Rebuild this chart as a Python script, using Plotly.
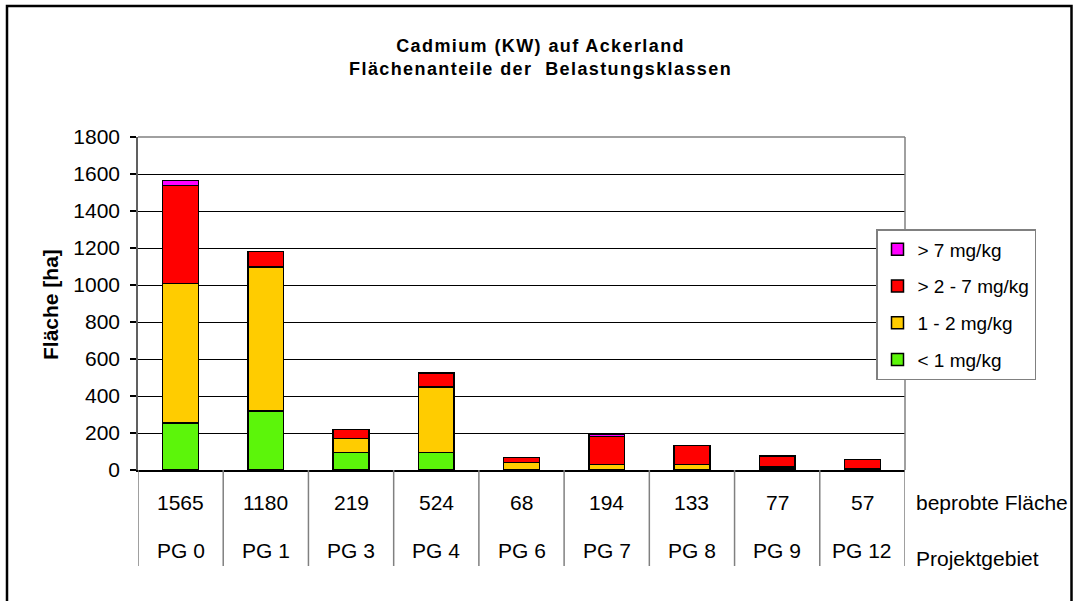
import plotly.graph_objects as go

# ---- data ----
categories = ["PG 0", "PG 1", "PG 3", "PG 4", "PG 6", "PG 7", "PG 8", "PG 9", "PG 12"]
sampled_area = [1565, 1180, 219, 524, 68, 194, 133, 77, 57]
lt1 = [255, 320, 94, 94, 2, 2, 2, 10, 3]
c1_2 = [753, 778, 75, 356, 38, 28, 28, 8, 4]
c2_7 = [530, 82, 50, 74, 28, 150, 103, 59, 50]
gt7 = [27, 0, 0, 0, 0, 14, 0, 0, 0]
series_names = ["< 1 mg/kg", "1 - 2 mg/kg", "> 2 - 7 mg/kg", "> 7 mg/kg"]
series_values = [lt1, c1_2, c2_7, gt7]
series_colors = ["#5CF50A", "#FFCC00", "#FF0000", "#FF00FF"]
y_ticks = [0, 200, 400, 600, 800, 1000, 1200, 1400, 1600, 1800]
row_labels = ["beprobte Fläche", "Projektgebiet"]

W, H = 1074, 601
L, R, T, B = 138, 905, 137, 470  # plot area in px


def px(xp):
    return (xp - L) / (R - L)


def py(yp):
    return (B - yp) / (B - T)


FONT = "Liberation Sans, Arial, sans-serif"

fig = go.Figure()
n = len(series_names)
for i, (name, vals, col) in enumerate(zip(series_names, series_values, series_colors)):
    fig.add_trace(go.Bar(
        x=categories, y=vals, name=name, legendgroup=name, legendrank=n - i,
        marker=dict(color=col, line=dict(color="black", width=1.5)),
    ))

annotations = []
# Title
annotations.append(dict(
    text="<b>Cadmium (KW) auf Ackerland</b><br><b>Flächenanteile der  Belastungsklassen</b>",
    x=px(540), y=py(57), xref="paper", yref="paper", xanchor="center", yanchor="middle",
    showarrow=False, font=dict(family=FONT, size=18, color="black"), align="center"))
# Y title
annotations.append(dict(
    text="<b>Fläche [ha]</b>", textangle=-90, x=px(50), y=py(305), xref="paper", yref="paper",
    xanchor="center", yanchor="middle", showarrow=False,
    font=dict(family=FONT, size=21, color="black")))
# Table rows
for c, v in zip(categories, sampled_area):
    annotations.append(dict(text=str(v), x=c, y=py(502), xref="x", yref="paper",
                            xanchor="center", yanchor="middle", showarrow=False,
                            font=dict(family=FONT, size=21, color="black")))
    annotations.append(dict(text=c, x=c, y=py(550), xref="x", yref="paper",
                            xanchor="center", yanchor="middle", showarrow=False,
                            font=dict(family=FONT, size=21, color="black")))
annotations.append(dict(text=row_labels[0], x=px(914), y=py(502), xref="paper", yref="paper",
                        xanchor="left", yanchor="middle", showarrow=False,
                        font=dict(family=FONT, size=21, color="black")))
annotations.append(dict(text=row_labels[1], x=px(914), y=py(558), xref="paper", yref="paper",
                        xanchor="left", yanchor="middle", showarrow=False,
                        font=dict(family=FONT, size=21, color="black")))

shapes = []
# table vertical lines at category boundaries
for k in range(len(categories) + 1):
    shapes.append(dict(type="line", xref="x", yref="paper", x0=k - 0.5, x1=k - 0.5,
                       y0=0, y1=py(566), line=dict(color="#808080", width=1.5)))
# plot area top and right border
shapes.append(dict(type="line", xref="paper", yref="paper", x0=0, x1=1, y0=1, y1=1,
                   line=dict(color="#808080", width=1.5)))
shapes.append(dict(type="line", xref="paper", yref="paper", x0=1, x1=1, y0=0, y1=1,
                   line=dict(color="#808080", width=1.5)))
# outer chart border
shapes.append(dict(type="rect", xref="paper", yref="paper", x0=px(7), x1=px(1071.5),
                   y0=py(606), y1=py(6), line=dict(color="black", width=2.5),
                   fillcolor="rgba(0,0,0,0)", layer="below"))

fig.update_layout(
    width=W, height=H,
    margin=dict(l=L, r=W - R, t=T, b=H - B, pad=0),
    paper_bgcolor="white", plot_bgcolor="white",
    barmode="stack", bargap=0.58,
    font=dict(family=FONT, size=19, color="black"),
    showlegend=True,
    legend=dict(x=px(876), y=py(229), xanchor="left", yanchor="top",
                traceorder="grouped", tracegroupgap=9,
                bgcolor="white", bordercolor="#808080", borderwidth=1.5,
                font=dict(family=FONT, size=19, color="black")),
    xaxis=dict(type="category", showticklabels=False, showline=True, linecolor="black",
               linewidth=1.5, ticks="", showgrid=False, range=[-0.5, len(categories) - 0.5],
               fixedrange=True),
    yaxis=dict(range=[0, 1800], tickvals=y_ticks, ticks="outside", ticklen=6, tickwidth=1.5,
               tickcolor="black", showline=True, linecolor="#606060", linewidth=1.5,
               showgrid=True, gridcolor="black", gridwidth=1, zeroline=False,
               tickfont=dict(family=FONT, size=21, color="black"), ticklabelstandoff=6,
               fixedrange=True),
    annotations=annotations, shapes=shapes,
)

post = """
document.body.style.margin='0';
var t = document.querySelectorAll('.annotation-text');
if (t.length) { t[0].style.letterSpacing = '1.4px'; }
"""
fig.write_html("out.html", config={"displayModeBar": False}, post_script=post)
